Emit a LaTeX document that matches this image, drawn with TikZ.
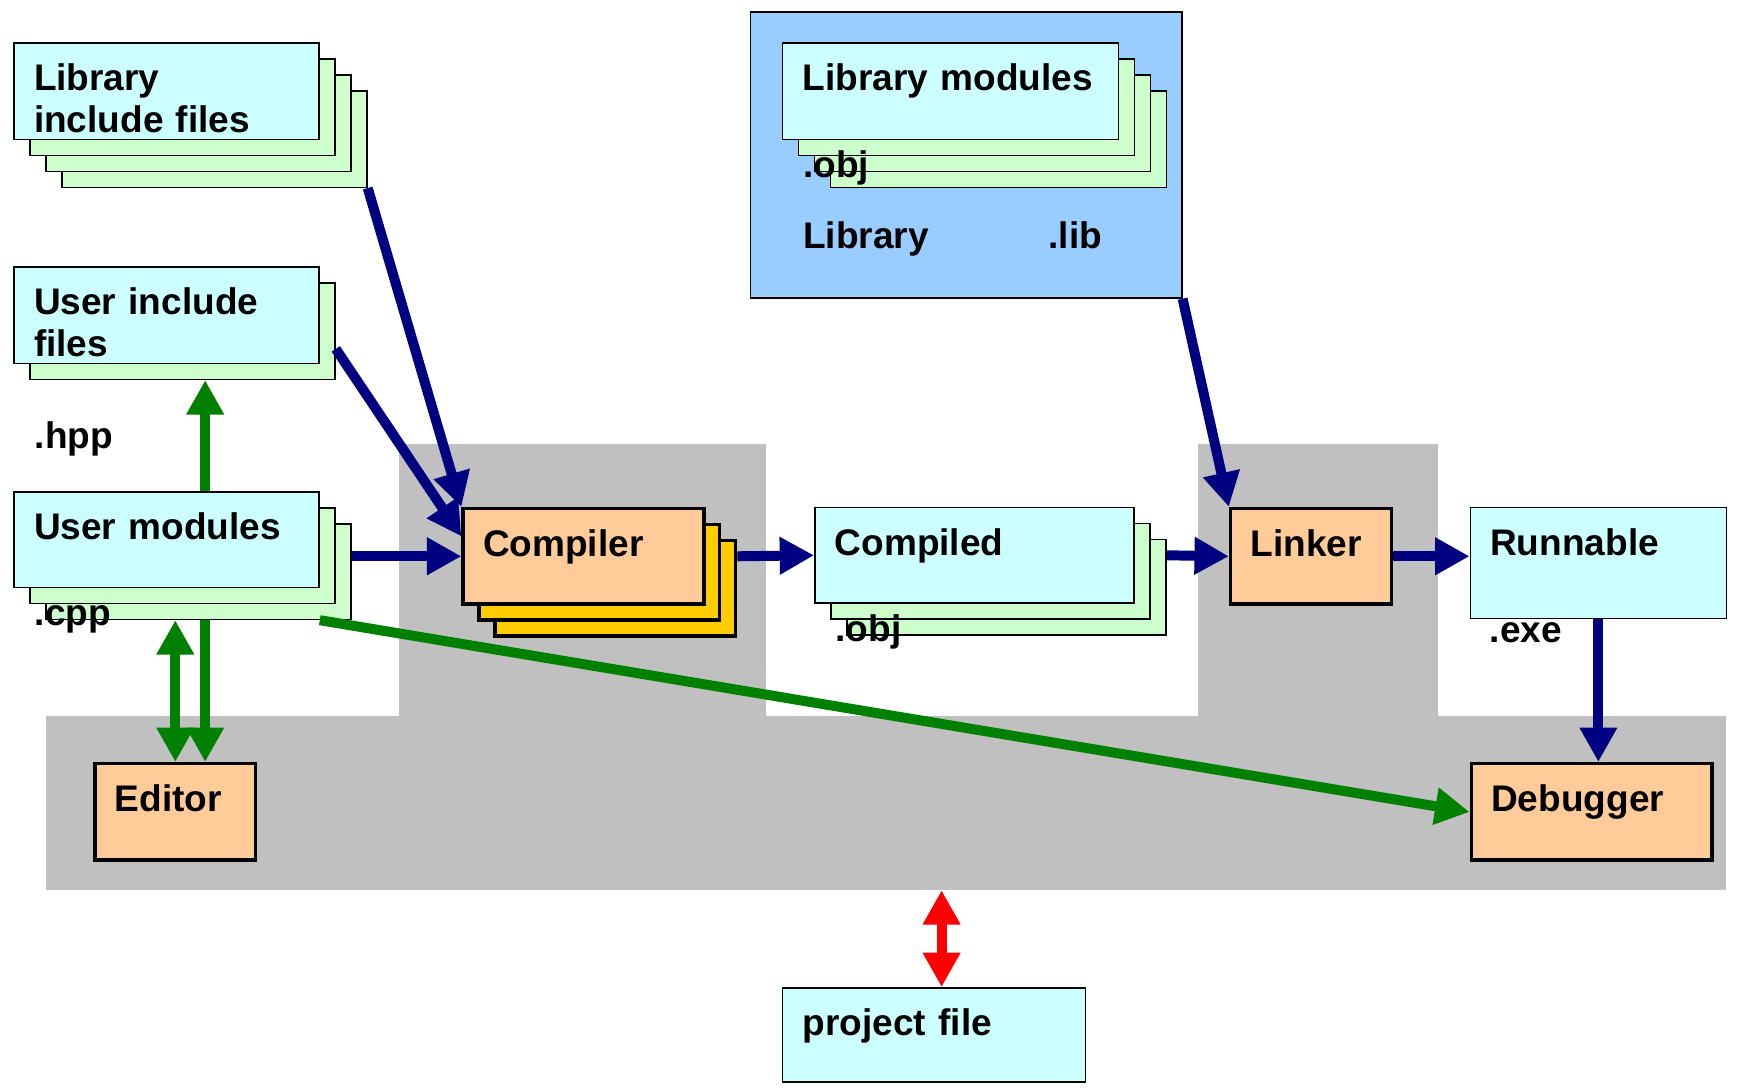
\documentclass[tikz,border=0pt]{standalone}
\usepackage{fontspec}
\setmainfont{Liberation Sans}
\usepackage{xcolor}
\usetikzlibrary{arrows.meta}

\definecolor{filecyan}{HTML}{CCFFFF}
\definecolor{filegreen}{HTML}{CCFFCC}
\definecolor{toolorange}{HTML}{FFCC99}
\definecolor{toolyellow}{HTML}{FFCC00}
\definecolor{libblue}{HTML}{99CCFF}
\definecolor{zonegray}{HTML}{C0C0C0}
\definecolor{flownavy}{HTML}{000080}
\definecolor{editgreen}{HTML}{008000}

\newcommand{\diagfont}{\bfseries\fontsize{19}{21.6}\selectfont}

\tikzset{
	zone/.style={fill=zonegray, anchor=north west, inner sep=0pt},
	doc/.style={draw=black, line width=0.8pt, fill=filecyan, anchor=north west,
		inner xsep=0.36cm, inner ysep=0pt, align=left, text height=0.86cm, font=\diagfont},
	sheet/.style={draw=black, line width=0.8pt, fill=filegreen, anchor=north west, inner sep=0pt},
	tool/.style={doc, fill=toolorange, line width=1.8pt},
	toolsheet/.style={sheet, fill=toolyellow, line width=1.8pt},
	ext/.style={anchor=base west, inner sep=0pt, font=\diagfont},
	flow/.style={->, color=flownavy, line width=0.18cm},
	edit/.style={->, color=editgreen, line width=0.18cm},
	sync/.style={<->, color=red, line width=0.18cm}
}

\begin{document}
\begin{tikzpicture}[x=0.02cm, y=-0.02cm, >={Triangle[length=0.62cm,width=0.64cm]}]
	\useasboundingbox (0,0) rectangle (1568,981);
	% grey zones
	\node[zone, minimum width=6.62cm, minimum height=4.90cm] (cmpzone) at (359,400) {};
	\node[zone, minimum width=4.32cm, minimum height=4.90cm] (lnkzone) at (1080,400) {};
	\node[zone, minimum width=30.30cm, minimum height=3.14cm] (band) at (41,645) {};
	\node[draw, line width=0.8pt, fill=libblue, anchor=north west, inner sep=0pt,
		minimum width=7.78cm, minimum height=5.16cm] (libreg) at (676,10) {};
	%
	\foreach \k in {3,2,1}
		\node[sheet, minimum width=5.50cm, minimum height=1.74cm] (libinc\k) at (12+14.4*\k,38+14.4*\k) {};
	\node[doc, text width=4.78cm, text depth=0.88cm] (libinc) at (12,38) {Library\\include files};
	\node[sheet, minimum width=5.50cm, minimum height=1.74cm] (usrinc1) at (26.4,254.4) {};
	\node[doc, text width=4.78cm, text depth=0.88cm] (usrinc) at (12,240) {User include\\files};
	\foreach \k in {2,1}
		\node[sheet, minimum width=5.50cm, minimum height=1.72cm] (usrmod\k) at (12+14.4*\k,443+14.4*\k) {};
	\node[doc, text width=4.78cm, text depth=0.86cm] (usrmod) at (12,443) {User modules};
	\foreach \k in {3,2,1}
		\node[sheet, minimum width=6.06cm, minimum height=1.74cm] (libmod\k) at (705+14.4*\k,38+14.4*\k) {};
	\node[doc, text width=5.34cm, text depth=0.88cm] (libmod) at (705,38) {Library modules};
	\foreach \k in {2,1}
		\node[toolsheet, minimum width=4.34cm, minimum height=1.72cm] (cmp\k) at (416+14.4*\k,457+14.4*\k) {};
	\node[tool, text width=3.62cm, text depth=0.86cm] (cmp) at (416,457) {Compiler};
	\foreach \k in {2,1}
		\node[sheet, minimum width=5.76cm, minimum height=1.72cm] (cpd\k) at (734+14.4*\k,457+14.4*\k) {};
	\node[doc, text width=5.04cm, text depth=0.86cm] (cpd) at (734,457) {Compiled};
	\node[tool, text width=2.18cm, text depth=0.86cm] (lnk) at (1108,457) {Linker};
	\node[doc, text width=3.90cm, text depth=1.14cm] (run) at (1325,457) {Runnable};
	\node[tool, text width=2.18cm, text depth=0.88cm] (edt) at (84,687) {Editor};
	\node[tool, text width=3.62cm, text depth=0.88cm] (dbg) at (1325,687) {Debugger};
	\node[doc, text width=4.74cm, text depth=0.84cm] (prj) at (705,890) {project file};
	%
	\node[ext] (hpp) at (31,404) {.hpp};
	\node[ext] (cpp) at (31,564) {.cpp};
	\node[ext] (cpdobj) at (753,578) {.obj};
	\node[ext] (exe) at (1343,579) {.exe};
	\node[ext] (libobj) at (724,160) {.obj};
	\node[ext] (libname) at (724,224) {Library};
	\node[ext] (libext) at (945,224) {.lib};
	%
	\coordinate (upx) at (185,0);
	\coordinate (prjx) at (849,0);
	\path[edit]
		(usrmod.south east |- usrmod2.south) edge (dbg.west)
		(upx |- usrmod.north) edge (upx |- usrinc1.south)
		(upx |- usrmod2.south) edge (upx |- edt.north)
		(edt.north |- usrmod2.south) edge[<->] (edt.north);
	\path[flow]
		(libinc3.south east) edge (cmp.north west)
		([yshift=-0.32cm]usrinc1.east) edge ([yshift=0.36cm]cmp.west)
		(usrmod2.east |- cmp.west) edge (cmp.west)
		(cmp2.east |- cmp.east) edge (cpd.west)
		(cpd2.east |- cpd.east) edge (lnk.west)
		(libreg.south east) edge (lnk.north west)
		(lnk.east) edge (lnk.east -| run.west)
		(run.south) edge (run.south |- dbg.north);
	\path[sync] (prjx |- band.south) edge (prjx |- prj.north);
\end{tikzpicture}
\end{document}
